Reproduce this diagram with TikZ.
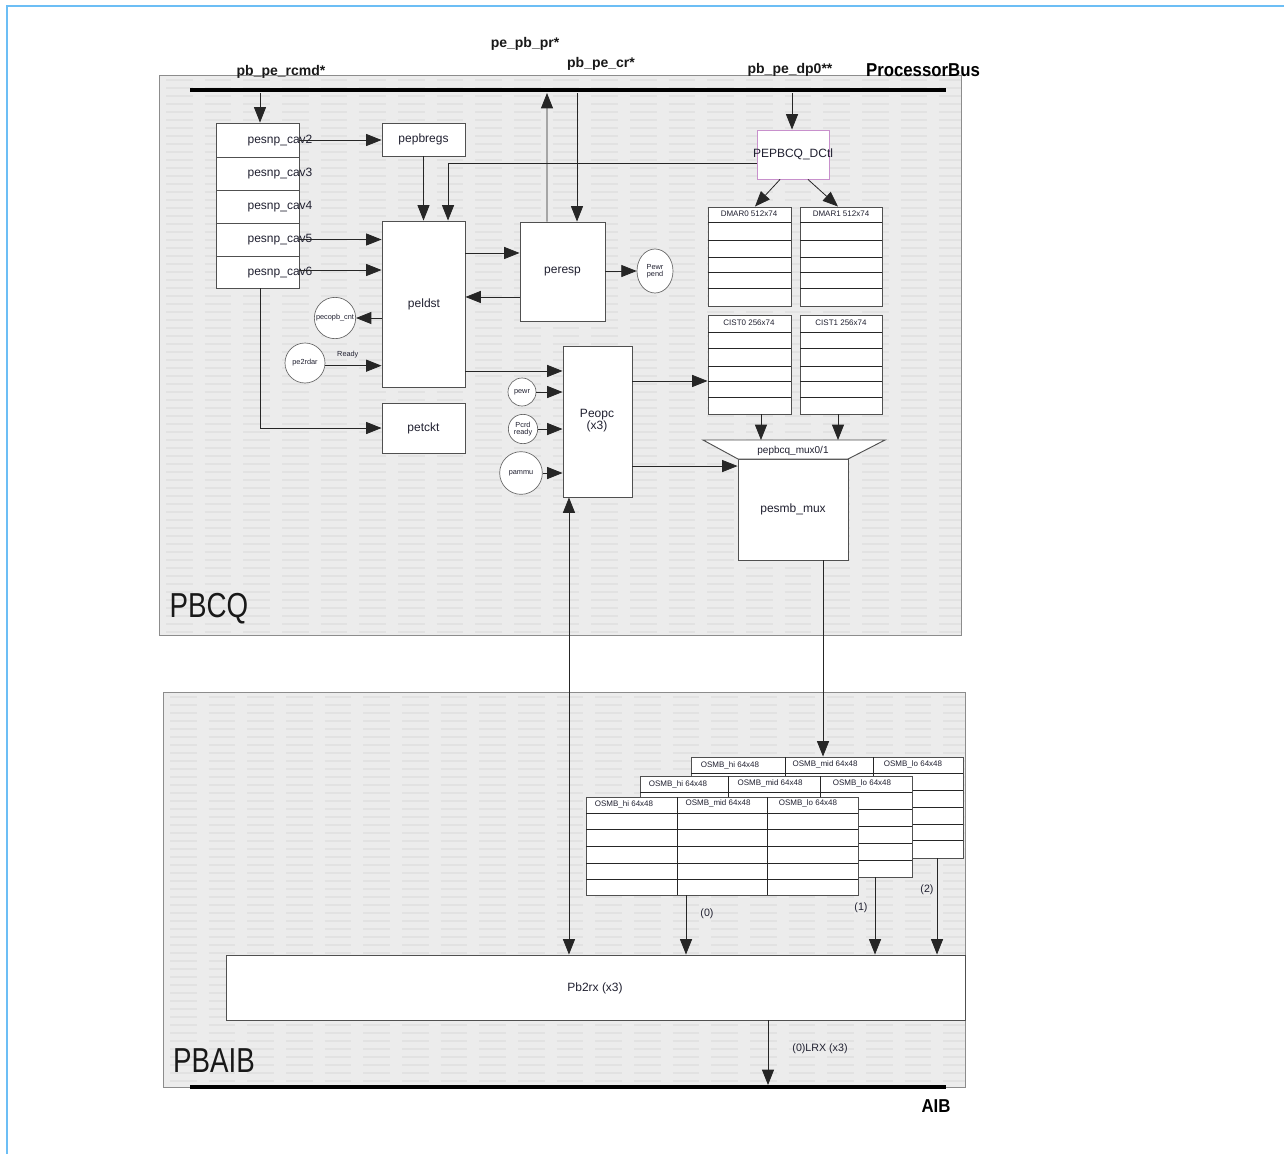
\documentclass[tikz,border=0pt]{standalone}
\usepackage{fontspec}
\setmainfont{Liberation Sans}
\usetikzlibrary{arrows.meta,fit,shapes.geometric}
\definecolor{bluefr}{HTML}{6CBEF5}
\definecolor{panelc}{HTML}{ECECEC}
\definecolor{stripec}{HTML}{E2E2E2}
\definecolor{edgec}{HTML}{505050}
\definecolor{pinkb}{HTML}{C890CC}
\definecolor{txtc}{HTML}{202030}
\newcommand\fsz[1]{\fontsize{#1}{#1}\selectfont}
\begin{document}
\begin{tikzpicture}[x=0.75pt,y=-0.75pt,
  panelbox/.style={draw=black!45, line width=0.6pt, inner sep=0pt},
  blk/.style={draw=edgec, fill=white, line width=0.7pt, inner sep=0pt, text=txtc, font=\fsz{9}, align=center},
  tbl/.style={draw=edgec, fill=white, line width=0.7pt, inner sep=0pt},
  rowln/.style={draw=black!85, line width=0.7pt},
  circ/.style={circle, draw=black!60, fill=white, line width=0.5pt, inner sep=0pt, text=txtc, font=\fsz{5.5}, align=center},
  arr/.style={draw=black!85, line width=0.6pt, -{Triangle[length=11.5pt,width=9pt]}},
  arrtwo/.style={draw=black!85, line width=0.6pt, {Triangle[length=11.5pt,width=9pt]}-{Triangle[length=11.5pt,width=9pt]}},
  bus/.style={draw=black, line width=3.5pt},
  toplbl/.style={font=\bfseries\fsz{10.5}, inner sep=0pt, text=black!90},
  tiny/.style={font=\fsz{6}, inner sep=0pt, text=txtc},
  lbl/.style={font=\fsz{9}, inner sep=0pt, text=txtc},
  biglbl/.style={font=\fsz{26}, inner sep=0pt, text=black!90}]

% canvas and frame
\useasboundingbox (0,0) rectangle (1284,1154);
\fill[white] (0,0) rectangle (1284,1154);
\draw[bluefr, line width=1.6pt] (7,1154) -- (7,6) -- (1284,6);

% panels
\node[panelbox, fill=panelc, fit={(159,75) (961,635)}] (pbcq) {};
\node[panelbox, fill=panelc, fit={(163,692) (965,1087)}] (pbaib) {};
\begin{scope}
  \clip (159,75) rectangle (961,635);
  \foreach \yy in {80,88,...,632} \draw[stripec, line width=1pt, dash pattern=on 20pt off 9pt] (166,\yy) -- (961,\yy);
\end{scope}
\begin{scope}
  \clip (163,692) rectangle (965,1087);
  \foreach \yy in {697,705,...,1085} \draw[stripec, line width=1pt, dash pattern=on 20pt off 9pt] (170,\yy) -- (965,\yy);
\end{scope}
\draw[black!45, line width=0.6pt] (159,75) rectangle (961,635);
\draw[black!45, line width=0.6pt] (163,692) rectangle (965,1087);

\node[biglbl] (pbcqlbl) at (209,609) {\scalebox{0.8}[1]{PBCQ}};
\node[biglbl] (pbaiblbl) at (214,1061) {\scalebox{0.8}[1]{PBAIB}};

% processor bus
\coordinate (pbusL) at (190,90);
\coordinate (pbusR) at (946,90);
\draw[bus] (pbusL) -- (pbusR);
\node[toplbl] (lrcmd) at (281,72) {pb\_pe\_rcmd*};
\node[toplbl] (lpr) at (525,44) {pe\_pb\_pr*};
\node[toplbl] (lcr) at (601,64) {pb\_pe\_cr*};
\node[toplbl] (ldp) at (790,70) {pb\_pe\_dp0**};
\node[font=\bfseries\fsz{14}, inner sep=0pt] (lpbus) at (923,70) {\scalebox{0.9}[1]{ProcessorBus}};

% AIB bus
\coordinate (abusL) at (190,1087);
\coordinate (abusR) at (946,1087);
\draw[bus] (abusL) -- (abusR);
\node[font=\bfseries\fsz{14}, inner sep=0pt] (laib) at (936,1106) {\scalebox{0.9}[1]{AIB}};

% pesnp stack
\node[blk, fit={(216,123) (299,157)}] (cav2) {};
\node[blk, fit={(216,157) (299,190)}] (cav3) {};
\node[blk, fit={(216,190) (299,223)}] (cav4) {};
\node[blk, fit={(216,223) (299,256)}] (cav5) {};
\node[blk, fit={(216,256) (299,288)}] (cav6) {};
\node[lbl] (tcav2) at (280,141) {pesnp\_cav2};
\node[lbl] (tcav3) at (280,174) {pesnp\_cav3};
\node[lbl] (tcav4) at (280,207) {pesnp\_cav4};
\node[lbl] (tcav5) at (280,240) {pesnp\_cav5};
\node[lbl] (tcav6) at (280,273) {pesnp\_cav6};

% main blocks
\node[blk, fit={(382,123) (465,156)}] (pepbregs) {};
\node[lbl] (tpepbregs) at (pepbregs.center) {pepbregs};
\node[blk, fit={(382,221) (465,387)}] (peldst) {};
\node[lbl] (tpeldst) at (424,304) {peldst};
\node[blk, fit={(382,403) (465,453)}] (petckt) {};
\node[lbl] (tpetckt) at (petckt.center) {petckt};
\node[blk, fit={(520,222) (605,321)}] (peresp) {};
\node[lbl] (tperesp) at (peresp.center) {peresp};
\node[blk, fit={(563,346) (632,497)}] (peopc) {};
\node[lbl, align=center] (tpeopc) at (597,421) {Peopc\\(x3)};
\node[blk, draw=pinkb, fit={(757,130) (829,179)}] (dctl) {};
\node[lbl] (tdctl) at (793,154) {PEPBCQ\_DCtl};
\node[blk, fit={(738,459) (848,560)}] (pesmb) {};
\node[lbl] (tpesmb) at (pesmb.center) {pesmb\_mux};

% mux trapezoid
\draw[draw=edgec, fill=white, line width=0.7pt] (703,440) -- (885,440) -- (848,459) -- (738,459) -- cycle;
\coordinate (muxtop) at (793,440);
\node[tiny, font=\fsz{7.5}] (mux) at (793,451) {pepbcq\_mux0/1};

% circles
\node[circ, minimum size=31pt] (pecopb) at (335,318) {pecopb\_cnt};
\node[circ, minimum size=30pt] (pe2rdar) at (305,363) {pe2rdar};
\node[circ, ellipse, minimum width=27pt, minimum height=33pt] (pend) at (655,271) {Pewr\\pend};
\node[circ, minimum size=21pt] (pewr) at (522,392) {pewr};
\node[circ, minimum size=22pt] (pcrd) at (523,429) {Pcrd\\ready};
\node[circ, minimum size=32pt] (pammu) at (521,473) {pammu};

% DMAR / CIST tables
\node[tbl, fit={(708,207) (791,306)}] (dmar0) {};
\node[tbl, fit={(800,207) (882,306)}] (dmar1) {};
\foreach \yy in {222,240,257,272,288} {
  \draw[rowln] (708,\yy) -- (791,\yy);
  \draw[rowln] (800,\yy) -- (882,\yy);
}
\node[tiny] (tdmar0) at (749,214) {DMAR0 512x74};
\node[tiny] (tdmar1) at (841,214) {DMAR1 512x74};
\node[tbl, fit={(708,315) (791,414)}] (cist0) {};
\node[tbl, fit={(800,315) (882,414)}] (cist1) {};
\foreach \yy in {332,348,366,381,397} {
  \draw[rowln] (708,\yy) -- (791,\yy);
  \draw[rowln] (800,\yy) -- (882,\yy);
}
\node[tiny] (tcist0) at (749,323) {CIST0 256x74};
\node[tiny] (tcist1) at (841,323) {CIST1 256x74};

% OSMB stacks (back, middle, front)
\node[tbl, fit={(691,757) (963,858)}] (osmbB) {};
\foreach \yy in {773,790,807,824,840} \draw[rowln] (691,\yy) -- (963,\yy);
\draw[rowln] (785,757) -- (785,858);
\draw[rowln] (873,757) -- (873,858);
\node[tiny] (tb1) at (730,765) {OSMB\_hi 64x48};
\node[tiny] (tb2) at (825,764) {OSMB\_mid 64x48};
\node[tiny] (tb3) at (913,764) {OSMB\_lo 64x48};

\node[tbl, fit={(640,776) (912,877)}] (osmbM) {};
\foreach \yy in {792,809,826,843,860} \draw[rowln] (640,\yy) -- (912,\yy);
\draw[rowln] (728,776) -- (728,877);
\draw[rowln] (820,776) -- (820,877);
\node[tiny] (tm1) at (678,784) {OSMB\_hi 64x48};
\node[tiny] (tm2) at (770,783) {OSMB\_mid 64x48};
\node[tiny] (tm3) at (862,783) {OSMB\_lo 64x48};

\node[tbl, fit={(586,797) (858,895)}] (osmbF) {};
\foreach \yy in {813,829,846,863,879} \draw[rowln] (586,\yy) -- (858,\yy);
\draw[rowln] (677,797) -- (677,895);
\draw[rowln] (767,797) -- (767,895);
\node[tiny] (tf1) at (624,804) {OSMB\_hi 64x48};
\node[tiny] (tf2) at (718,803) {OSMB\_mid 64x48};
\node[tiny] (tf3) at (808,803) {OSMB\_lo 64x48};

% Pb2rx
\node[blk, fit={(226,955) (965,1020)}] (pb2rx) {};
\node[lbl] (tpb2rx) at (595,988) {Pb2rx (x3)};

% connectors from bus
\coordinate (rcmdpt) at (260,93);
\draw[arr] (rcmdpt) -- (rcmdpt |- cav2.north);
\coordinate (prpt) at (547,93);
\draw[arr] ([xshift=-11.6pt]peresp.north) -- (prpt);
\coordinate (crpt) at (577,93);
\draw[arr] (crpt) -- (crpt |- peresp.north);
\coordinate (dppt) at (792,93);
\draw[arr] (dppt) -- (dppt |- dctl.north);

% left side connectors
\draw[arr] (cav2.east) -- (cav2.east -| pepbregs.west);
\draw[arr] (pepbregs.south) -- (pepbregs.south |- peldst.north);
\draw[arr] ([yshift=-6.4pt]dctl.west) -| ([xshift=18.4pt]peldst.north);
\draw[arr] (cav5.east) -- (cav5.east -| peldst.west);
\draw[arr] ([yshift=1.5pt]cav6.east) -- ([yshift=1.5pt]cav6.east -| peldst.west);
\draw[arr] (pecopb.east -| peldst.west) -- (pecopb.east);
\draw[arr] ([yshift=-2pt]pe2rdar.east) -- ([yshift=-2pt]pe2rdar.east -| peldst.west)
  node[pos=0.4, above=2pt, font=\fsz{5.5}, text=txtc] {Ready};
\draw[arr] ([xshift=2pt]cav6.south) |- (petckt.west);

% peldst / peresp / peopc
\draw[arr] ([yshift=13.9pt]peresp.west -| peldst.east) -- ([yshift=13.9pt]peresp.west);
\draw[arr] ([yshift=-19.1pt]peresp.west) -- ([yshift=-19.1pt]peresp.west -| peldst.east);
\draw[arr] (peresp.east |- pend.west) -- (pend.west);
\draw[arr] ([yshift=37.9pt]peopc.west -| peldst.east) -- ([yshift=37.9pt]peopc.west);
\draw[arr] (pewr.east) -- (pewr.east -| peopc.west);
\draw[arr] (pcrd.east) -- (pcrd.east -| peopc.west);
\draw[arr] (pammu.east) -- (pammu.east -| peopc.west);
\draw[arr] ([yshift=30.4pt]peopc.east) -- ([yshift=30.4pt]peopc.east -| cist0.west);
\draw[arr] ([yshift=-33.4pt]peopc.east) -- ([yshift=-33.4pt]peopc.east -| pesmb.west);
\draw[arrtwo] ([xshift=-21.4pt]peopc.south) -- ([xshift=-21.4pt]peopc.south |- pb2rx.north);

% DCtl to tables, tables to mux
\draw[arr] ([xshift=-9.75pt]dctl.south) -- ([xshift=4.1pt]dmar0.north);
\draw[arr] ([xshift=11.25pt]dctl.south) -- ([xshift=-2.25pt]dmar1.north);
\draw[arr] ([xshift=8.6pt]cist0.south) -- ([xshift=8.6pt]cist0.south |- muxtop);
\draw[arr] ([xshift=-2.25pt]cist1.south) -- ([xshift=-2.25pt]cist1.south |- muxtop);

% pesmb to OSMB, OSMB to Pb2rx
\draw[arr] ([xshift=22.5pt]pesmb.south) -- ([xshift=22.5pt]pesmb.south |- osmbB.north);
\draw[arr] ([xshift=-27pt]osmbF.south) -- ([xshift=-27pt]osmbF.south |- pb2rx.north);
\draw[arr] ([xshift=74.25pt]osmbM.south) -- ([xshift=74.25pt]osmbM.south |- pb2rx.north);
\draw[arr] ([xshift=82.5pt]osmbB.south) -- ([xshift=82.5pt]osmbB.south |- pb2rx.north);
\node[lbl, font=\fsz{8}] (l0) at (707,914) {(0)};
\node[lbl, font=\fsz{8}] (l1) at (861,908) {(1)};
\node[lbl, font=\fsz{8}] (l2) at (927,890) {(2)};

% Pb2rx to AIB
\coordinate (aibpt) at (768,1085);
\draw[arr] (aibpt |- pb2rx.south) -- (aibpt);
\node[lbl, font=\fsz{8}] (llrx) at (820,1049) {(0)LRX (x3)};

\end{tikzpicture}
\end{document}
